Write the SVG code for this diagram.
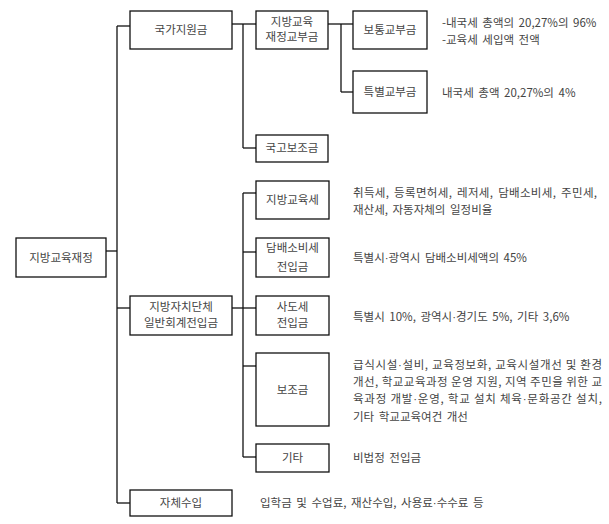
<svg xmlns="http://www.w3.org/2000/svg" width="609" height="524" viewBox="0 0 609 524">
<style>
rect.b{fill:#fff;stroke:#111;stroke-width:1.3}
.c line{stroke:#111;stroke-width:1.3}
text{font-family:"Noto Sans CJK KR","Noto Sans",sans-serif;font-size:11.5px;fill:#444}
text.m{text-anchor:middle}
text.d{word-spacing:2px}
tspan.dot{font-family:"Liberation Sans",sans-serif}
</style>
<rect width="609" height="524" fill="#fff"/>
<g id="connectors" class="c">
<line x1="117" y1="26" x2="117" y2="503"/>
<line x1="117" y1="26" x2="130" y2="26"/>
<line x1="106" y1="251" x2="117" y2="251"/>
<line x1="117" y1="308" x2="130" y2="308"/>
<line x1="117" y1="503" x2="130" y2="503"/>
<line x1="232" y1="24" x2="256" y2="24"/>
<line x1="243" y1="24" x2="243" y2="148"/>
<line x1="243" y1="148" x2="256" y2="148"/>
<line x1="328" y1="24" x2="353" y2="24"/>
<line x1="341" y1="24" x2="341" y2="92"/>
<line x1="341" y1="92" x2="353" y2="92"/>
<line x1="232" y1="308" x2="256" y2="308"/>
<line x1="243" y1="193" x2="243" y2="457"/>
<line x1="243" y1="193" x2="256" y2="193"/>
<line x1="243" y1="252" x2="256" y2="252"/>
<line x1="243" y1="366" x2="256" y2="366"/>
<line x1="243" y1="457" x2="256" y2="457"/>
</g>
<g id="n-root"><rect class="b" x="16" y="238" width="90" height="39"/><text class="m" x="61" y="262">지방교육재정</text></g>
<g id="n-national"><rect class="b" x="130" y="11" width="102" height="38"/><text class="m" x="181" y="34">국가지원금</text></g>
<g id="n-local"><rect class="b" x="130" y="296" width="102" height="39"/><text class="m" x="181" y="311">지방자치단체</text><text class="m" x="181" y="327">일반회계전입금</text></g>
<g id="n-own"><rect class="b" x="130" y="490" width="102" height="26"/><text class="m" x="181" y="507">자체수입</text></g>
<g id="n-grant"><rect class="b" x="256" y="11" width="72" height="38"/><text class="m" x="292" y="26">지방교육</text><text class="m" x="292" y="41">재정교부금</text></g>
<g id="n-subsidy"><rect class="b" x="256" y="135" width="72" height="27"/><text class="m" x="292" y="152">국고보조금</text></g>
<g id="n-ordinary"><rect class="b" x="353" y="11" width="74" height="38"/><text class="m" x="390" y="34">보통교부금</text><text class="d" x="442" y="27">-내국세 총액의 20,27%의 96%</text><text class="d" x="442" y="44">-교육세 세입액 전액</text></g>
<g id="n-special"><rect class="b" x="353" y="71" width="74" height="42"/><text class="m" x="390" y="96">특별교부금</text><text class="d" x="442" y="97">내국세 총액 20,27%의 4%</text></g>
<g id="n-edutax"><rect class="b" x="256" y="181" width="73" height="38"/><text class="m" x="292.5" y="204">지방교육세</text><text class="d" x="353" y="197" textLength="244" lengthAdjust="spacing">취득세, 등록면허세, 레저세, 담배소비세, 주민세,</text><text class="d" x="353" y="214">재산세, 자동자체의 일정비율</text></g>
<g id="n-tobacco"><rect class="b" x="256" y="238" width="73" height="39"/><text class="m" x="292.5" y="252">담배소비세</text><text class="m" x="292.5" y="271">전입금</text><text class="d" x="353" y="262">특별시<tspan class="dot">·</tspan>광역시 담배소비세액의 45%</text></g>
<g id="n-sido"><rect class="b" x="256" y="296" width="73" height="39"/><text class="m" x="292.5" y="311">사도세</text><text class="m" x="292.5" y="327">전입금</text><text class="d" x="353" y="321">특별시 10%, 광역시<tspan class="dot">·</tspan>경기도 5%, 기타 3,6%</text></g>
<g id="n-aid"><rect class="b" x="256" y="353" width="73" height="73"/><text class="m" x="292.5" y="394">보조금</text>
<text x="353" y="369" textLength="249" lengthAdjust="spacing">급식시설<tspan class="dot">·</tspan>설비, 교육정보화, 교육시설개선 및 환경</text>
<text x="353" y="386" textLength="249" lengthAdjust="spacing">개선, 학교교육과정 운영 지원, 지역 주민을 위한 교</text>
<text x="353" y="403" textLength="249" lengthAdjust="spacing">육과정 개발<tspan class="dot">·</tspan>운영, 학교 설치 체육<tspan class="dot">·</tspan>문화공간 설치,</text>
<text class="d" x="353" y="421">기타 학교교육여건 개선</text></g>
<g id="n-etc"><rect class="b" x="256" y="444" width="73" height="28"/><text class="m" x="292.5" y="462">기타</text><text class="d" x="353" y="462">비법정 전입금</text></g>
<g id="n-owntext"><text class="d" x="260" y="507">입학금 및 수업료, 재산수입, 사용료<tspan class="dot">·</tspan>수수료 등</text></g>
</svg>
